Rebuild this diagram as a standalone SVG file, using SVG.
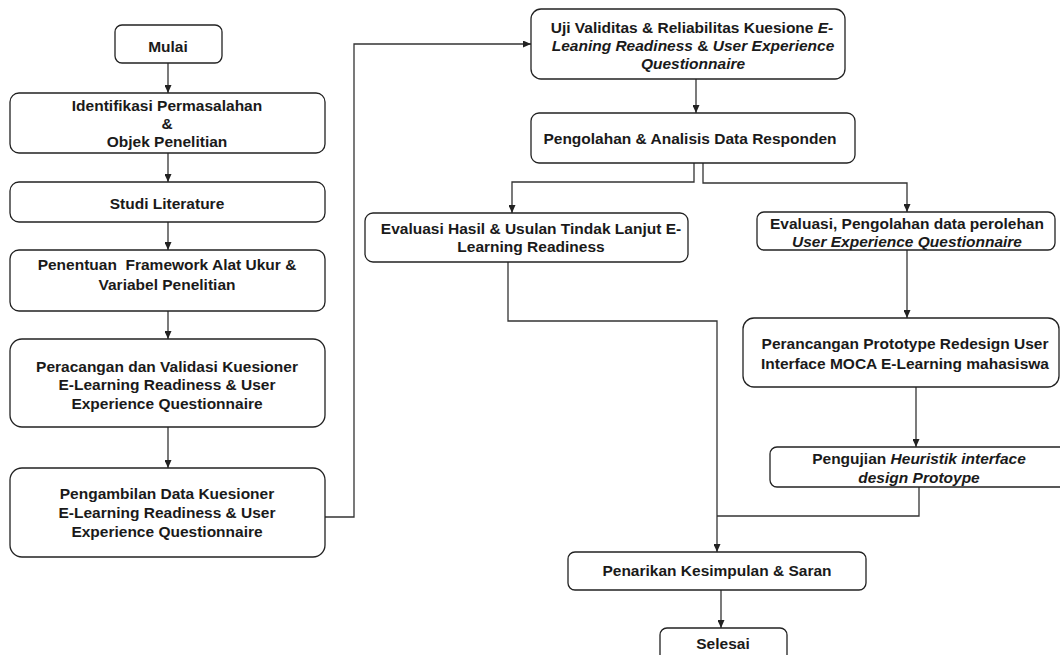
<svg xmlns="http://www.w3.org/2000/svg" width="1060" height="655" viewBox="0 0 1060 655">
<style>
.box{fill:#fff;stroke:#222;stroke-width:1.3}
.t{font-family:"Liberation Sans",Arial,sans-serif;font-size:15.5px;font-weight:bold;fill:#1a1a1a;text-anchor:middle;white-space:pre}
.i{font-style:italic}
.c{fill:none;stroke:#333;stroke-width:1.3}
</style>
<defs>
<marker id="ah" markerWidth="8" markerHeight="7" refX="8" refY="3.5" orient="auto" markerUnits="userSpaceOnUse">
<path d="M0,0 L8,3.5 L0,7 z" fill="#222"/>
</marker>
</defs>
<rect width="1060" height="655" fill="#fff"/>
<g id="connectors">
<path class="c" d="M168,63 V93" marker-end="url(#ah)"/>
<path class="c" d="M168,153 V182" marker-end="url(#ah)"/>
<path class="c" d="M168,222 V250" marker-end="url(#ah)"/>
<path class="c" d="M168,311 V339" marker-end="url(#ah)"/>
<path class="c" d="M168,427 V468" marker-end="url(#ah)"/>
<path class="c" d="M325,517 H354 V44 H531" marker-end="url(#ah)"/>
<path class="c" d="M696,79 V113" marker-end="url(#ah)"/>
<path class="c" d="M694,163 V182 H512 V213" marker-end="url(#ah)"/>
<path class="c" d="M703,163 V183 H907 V212" marker-end="url(#ah)"/>
<path class="c" d="M907,250 V318" marker-end="url(#ah)"/>
<path class="c" d="M916,387 V447" marker-end="url(#ah)"/>
<path class="c" d="M508,262 V321 H717 V552" marker-end="url(#ah)"/>
<path class="c" d="M919,487 V516 H717"/>
<path class="c" d="M721,590 V628" marker-end="url(#ah)"/>
</g>
<g id="mulai">
<rect class="box" x="115" y="25" width="107" height="38" rx="7"/>
<text class="t" x="168" y="51.5">Mulai</text>
</g>
<g id="identifikasi">
<rect class="box" x="10" y="93" width="315" height="60" rx="9"/>
<text class="t" x="167" y="111">Identifikasi Permasalahan</text>
<text class="t" x="167" y="129">&amp;</text>
<text class="t" x="167" y="147">Objek Penelitian</text>
</g>
<g id="studi">
<rect class="box" x="10" y="182" width="315" height="40" rx="9"/>
<text class="t" x="167" y="208.5">Studi Literature</text>
</g>
<g id="penentuan">
<rect class="box" x="10" y="250" width="315" height="61" rx="9"/>
<text class="t" x="167" y="269.5" xml:space="preserve">Penentuan  Framework Alat Ukur &amp;</text>
<text class="t" x="167" y="289.5">Variabel Penelitian</text>
</g>
<g id="peracangan">
<rect class="box" x="10" y="339" width="315" height="88" rx="12"/>
<text class="t" x="167" y="371.5">Peracangan dan Validasi Kuesioner</text>
<text class="t" x="167" y="390">E-Learning Readiness &amp; User</text>
<text class="t" x="167" y="408.5">Experience Questionnaire</text>
</g>
<g id="pengambilan">
<rect class="box" x="10" y="468" width="315" height="89" rx="12"/>
<text class="t" x="167" y="498.5">Pengambilan Data Kuesioner</text>
<text class="t" x="167" y="518">E-Learning Readiness &amp; User</text>
<text class="t" x="167" y="537">Experience Questionnaire</text>
</g>
<g id="uji">
<rect class="box" x="531" y="9" width="314" height="70" rx="10"/>
<text class="t" x="692" y="32.5">Uji Validitas &amp; Reliabilitas Kuesione <tspan class="i">E-</tspan></text>
<text class="t" x="693" y="50.5"><tspan class="i">Leaning Readiness</tspan> &amp; <tspan class="i">User Experience</tspan></text>
<text class="t i" x="693" y="68.5">Questionnaire</text>
</g>
<g id="pengolahan">
<rect class="box" x="531" y="113" width="324" height="50" rx="8"/>
<text class="t" x="690" y="143.5">Pengolahan &amp; Analisis Data Responden</text>
</g>
<g id="evaluasi-hasil">
<rect class="box" x="365" y="213" width="323" height="49" rx="8"/>
<text class="t" x="531" y="233.5">Evaluasi Hasil &amp; Usulan Tindak Lanjut E-</text>
<text class="t" x="531" y="251.5">Learning Readiness</text>
</g>
<g id="evaluasi-ueq">
<rect class="box" x="757" y="212" width="298" height="38" rx="7"/>
<text class="t" x="907" y="228.5">Evaluasi, Pengolahan data perolehan</text>
<text class="t i" x="907" y="247">User Experience Questionnaire</text>
</g>
<g id="perancangan">
<rect class="box" x="743" y="318" width="316" height="69" rx="11"/>
<text class="t" x="905" y="348.5">Perancangan Prototype Redesign User</text>
<text class="t" x="905" y="368.5">Interface MOCA E-Learning mahasiswa</text>
</g>
<g id="pengujian">
<rect class="box" x="770" y="447" width="300" height="40" rx="7"/>
<text class="t" x="919" y="463.5">Pengujian <tspan class="i">Heuristik interface</tspan></text>
<text class="t i" x="919" y="482.5">design Protoype</text>
</g>
<g id="penarikan">
<rect class="box" x="568" y="552" width="298" height="38" rx="7"/>
<text class="t" x="717" y="575.5">Penarikan Kesimpulan &amp; Saran</text>
</g>
<g id="selesai">
<rect class="box" x="660" y="628" width="127" height="40" rx="7"/>
<text class="t" x="723" y="648.5">Selesai</text>
</g>
</svg>
